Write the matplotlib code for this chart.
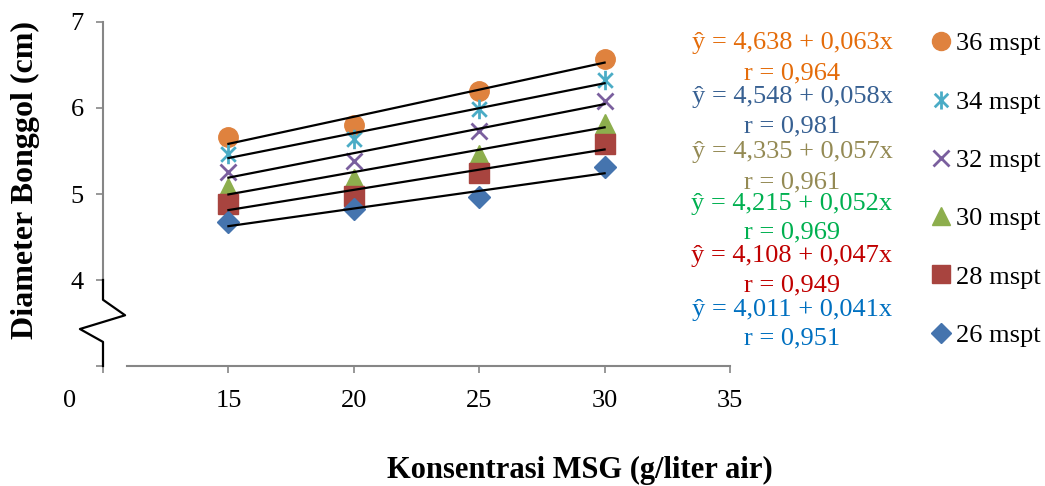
import numpy as np
import matplotlib.pyplot as plt
from matplotlib.path import Path
from matplotlib.lines import Line2D

plt.rcParams["font.family"] = ["Liberation Serif", "DejaVu Serif"]

# data
msg = [15, 20, 25, 30]
series = ["36 mspt", "34 mspt", "32 mspt", "30 mspt", "28 mspt", "26 mspt"]
d36 = [5.66, 5.80, 6.20, 6.57]
d34 = [5.47, 5.64, 5.99, 6.33]
d32 = [5.26, 5.38, 5.73, 6.08]
d30 = [5.07, 5.17, 5.45, 5.81]
d28 = [4.88, 4.98, 5.24, 5.58]
d26 = [4.67, 4.82, 4.97, 5.31]
intercepts = [4.638, 4.548, 4.335, 4.215, 4.108, 4.011]
slopes = [0.063, 0.058, 0.057, 0.052, 0.047, 0.041]
r_values = ["0,964", "0,981", "0,961", "0,969", "0,949", "0,951"]
eq_labels = ["ŷ = 4,638 + 0,063x", "ŷ = 4,548 + 0,058x", "ŷ = 4,335 + 0,057x",
             "ŷ = 4,215 + 0,052x", "ŷ = 4,108 + 0,047x", "ŷ = 4,011 + 0,041x"]

values = [d36, d34, d32, d30, d28, d26]

# asterisk marker like the spreadsheet one (vertical bar + x)
star = Path([(0, -1), (0, 1), (-0.75, -0.75), (0.75, 0.75), (-0.75, 0.75), (0.75, -0.75)],
            [Path.MOVETO, Path.LINETO, Path.MOVETO, Path.LINETO, Path.MOVETO, Path.LINETO])

markers = ["o", star, "x", "^", "s", "D"]
sizes = [14, 14, 12, 14, 14, 11]
colors = ["#DF823E", "#4BACC6", "#7A5F9E", "#8DAE4D", "#A8443F", "#4574AE"]
text_colors = ["#E46C0A", "#376092", "#948A54", "#00B050", "#C00000", "#0070C0"]

fig = plt.figure(figsize=(10.45, 4.86), dpi=100)
ax = fig.add_axes([103 / 1045, 1 - 366 / 486, 627 / 1045, 344 / 486])

for vals, m, s, c in zip(values, markers, sizes, colors):
    if m == "x" or m is star:
        ax.plot(msg, vals, linestyle="none", marker=m, ms=s, mec=c, mew=2, clip_on=False, zorder=3)
    else:
        ax.plot(msg, vals, linestyle="none", marker=m, ms=s, mfc=c, mec=c, clip_on=False, zorder=3)

xfit = np.array([msg[0], msg[-1]])
for a, b in zip(intercepts, slopes):
    ax.plot(xfit, a + b * xfit, color="black", lw=1.6, zorder=4)

ax.set_xlim(10, 35)
ax.set_ylim(3, 7)
ax.set_xticks([10, 15, 20, 25, 30, 35])
ax.set_xticklabels(["", "15", "20", "25", "30", "35"])
ax.set_yticks([3, 4, 5, 6, 7])
ax.set_yticklabels(["", "4", "5", "6", "7"])
ax.tick_params(axis="both", labelsize=19, length=5, color="#868686", width=1.2)
ax.tick_params(axis="x", pad=12)
ax.tick_params(axis="y", pad=9)
for side in ("top", "right"):
    ax.spines[side].set_visible(False)
ax.spines["left"].set_color("#868686")
ax.spines["bottom"].set_color("#868686")
ax.spines["left"].set_linewidth(1.5)
ax.spines["bottom"].set_linewidth(1.5)
ax.spines["left"].set_bounds(4, 7)
ax.spines["bottom"].set_bounds(10.95, 35)

# y axis break (zigzag)
zx = [10, 10, 10.88, 9.08, 10, 10]
zy = [4, 3.77, 3.59, 3.43, 3.28, 3]
ax.plot(zx, zy, color="black", lw=1.6, clip_on=False, zorder=5)

ax.annotate("0", xy=(10, 3), xytext=(-24, -25), textcoords="offset points",
            fontsize=19, ha="center", va="center", annotation_clip=False)

# equations
eq_y = [43, 97, 152, 204, 256, 310]
r_y = [73, 126, 182, 232, 285, 338]
for lab, r, c, ey, ry in zip(eq_labels, r_values, text_colors, eq_y, r_y):
    fig.text(792 / 1045, 1 - ey / 486, lab, color=c, fontsize=19, ha="center", va="center")
    fig.text(792 / 1045, 1 - ry / 486, "r = " + r, color=c, fontsize=19, ha="center", va="center")

handles = []
for m, s, c in zip(markers, sizes, colors):
    if m == "x" or m is star:
        handles.append(Line2D([], [], linestyle="none", marker=m, ms=s - 1, mec=c, mew=2))
    else:
        handles.append(Line2D([], [], linestyle="none", marker=m, ms=s - 1, mfc=c, mec=c))
fig.legend(handles, series, loc="upper left", bbox_to_anchor=(931 / 1045, 1 - 32 / 486),
           frameon=False, fontsize=19, labelspacing=1.32, handlelength=0.75,
           handletextpad=0.2, borderaxespad=0, borderpad=0)

fig.text(25 / 1045, 1 - 180 / 486, "Diameter Bonggol (cm)", rotation=90, fontsize=23,
         fontweight="bold", ha="center", va="center")
fig.text(580 / 1045, 1 - 470 / 486, "Konsentrasi MSG (g/liter air)", fontsize=22,
         fontweight="bold", ha="center", va="center")

fig.savefig("out.png", dpi=100)
